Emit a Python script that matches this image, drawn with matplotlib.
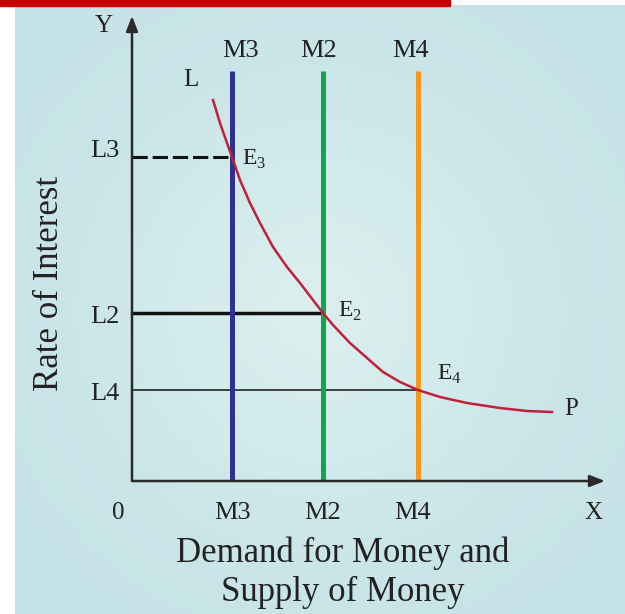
import numpy as np
import matplotlib
matplotlib.use('Agg')
import matplotlib.pyplot as plt
from matplotlib.patches import Rectangle

plt.rcParams['font.family'] = ['Liberation Serif', 'DejaVu Serif']
plt.rcParams['mathtext.fontset'] = 'custom'
plt.rcParams['mathtext.rm'] = 'Liberation Serif'

# diagram units: origin at the corner of the axes
money_names = ['M3', 'M2', 'M4']
money_x = [10.0, 19.1, 28.6]
money_colors = ['#2e3192', '#12a54b', '#f6971f']

rate_names = ['L3', 'L2', 'L4']
rate_y = [32.4, 16.8, 9.1]

eq_names = ['E$_3$', 'E$_2$', 'E$_4$']

# liquidity preference curve LP
lp_x = [8.1, 8.8, 9.5, 10.0, 10.8, 11.8, 12.8, 14.1, 15.5, 16.8, 18.1, 19.1,
        20.1, 21.8, 23.5, 25.1, 26.8, 28.6, 30.8, 33.5, 36.8, 39.5, 42.0]
lp_y = [38.1, 35.8, 33.8, 32.4, 30.1, 27.8, 25.8, 23.4, 21.4, 19.8, 18.1, 16.8,
        15.6, 13.8, 12.3, 10.9, 9.9, 9.1, 8.4, 7.8, 7.3, 7.0, 6.9]

fig = plt.figure(figsize=(6.25, 6.14), dpi=100)
ax = fig.add_axes([0, 0, 1, 1])
ax.set_xlim(-13.2, 49.3)
ax.set_ylim(-13.3, 48.1)
ax.axis('off')

# background panel (soft radial light in the middle) and red strip on top
gy, gx = np.mgrid[0:1:200j, 0:1:200j]
glow = np.exp(-((gx - 0.5) ** 2 + (gy - 0.5) ** 2) / 0.12)
edge = np.array([0.776, 0.890, 0.906])
mid = np.array([0.855, 0.937, 0.933])
panel = edge + glow[..., None] * (mid - edge)
ax.imshow(panel, extent=(-11.7, 49.3, -13.3, 47.55), aspect='auto', zorder=0)
ax.add_patch(Rectangle((0, 608.5 / 614), 450 / 625, 5 / 614, transform=ax.transAxes,
                       color='#c40000', zorder=1))

top = 41.05
top_lab_x = [10.9, 18.7, 27.9]
bot_lab_x = [10.1, 19.1, 28.05]
for name, x, c, tx, bx in zip(money_names, money_x, money_colors, top_lab_x, bot_lab_x):
    ax.plot([x, x], [0, top], color=c, lw=3.6, solid_capstyle='butt', zorder=3)
    ax.text(tx, 43.0, name, ha='center', va='center', fontsize=19, color='#222')
    ax.text(bx, -3.2, name, ha='center', va='center', fontsize=19, color='#222')

# horizontal guides
ax.plot([0, money_x[0]], [rate_y[0]] * 2, color='#111', lw=2.2,
        ls=(0, (5, 1.6)), zorder=2)
ax.plot([0, money_x[1]], [rate_y[1]] * 2, color='#111', lw=2.5, zorder=2)
ax.plot([0, money_x[2]], [rate_y[2]] * 2, color='#111', lw=1.1, zorder=2)
rate_lab_y = [33.0, 16.4, 8.75]
for name, y in zip(rate_names, rate_lab_y):
    ax.text(-1.25, y, name, ha='right', va='center', fontsize=19, color='#222')

ax.plot(lp_x, lp_y, color='#c0203a', lw=1.8, zorder=4, solid_joinstyle='round')

eq_lab = [(11.0, 31.6), (20.6, 16.4), (30.5, 10.1)]
for name, (x, y) in zip(eq_names, eq_lab):
    ax.text(x, y, name, ha='left', va='baseline', fontsize=17, color='#222')

ax.text(5.9, 40.1, 'L', ha='center', va='center', fontsize=18, color='#222')
ax.text(43.2, 7.2, 'P', ha='left', va='center', fontsize=18, color='#222')

# axes with arrow heads
ax.annotate('', xy=(0, 46.5), xytext=(0, 0),
            arrowprops=dict(arrowstyle='-|>,head_length=0.9,head_width=0.35',
                            color='#2a2a2a', lw=1.8, shrinkA=0, shrinkB=0), zorder=5)
ax.annotate('', xy=(47.3, 0), xytext=(0, 0),
            arrowprops=dict(arrowstyle='-|>,head_length=0.9,head_width=0.35',
                            color='#2a2a2a', lw=1.8, shrinkA=0, shrinkB=0), zorder=5)
ax.text(-2.8, 45.55, 'Y', ha='center', va='center', fontsize=18, color='#222')
ax.text(46.1, -3.2, 'X', ha='center', va='center', fontsize=18, color='#222')
ax.text(-1.4, -3.2, '0', ha='center', va='center', fontsize=18, color='#222')

ax.text(21.1, -8.1, 'Demand for Money and', ha='center', va='baseline', fontsize=25, color='#222')
ax.text(21.1, -12.0, 'Supply of Money', ha='center', va='baseline', fontsize=25, color='#222')
ax.text(-8.2, 19.8, 'Rate of Interest', rotation=90, ha='center', va='center',
        fontsize=25, color='#222')

fig.savefig('out.png', dpi=100)
